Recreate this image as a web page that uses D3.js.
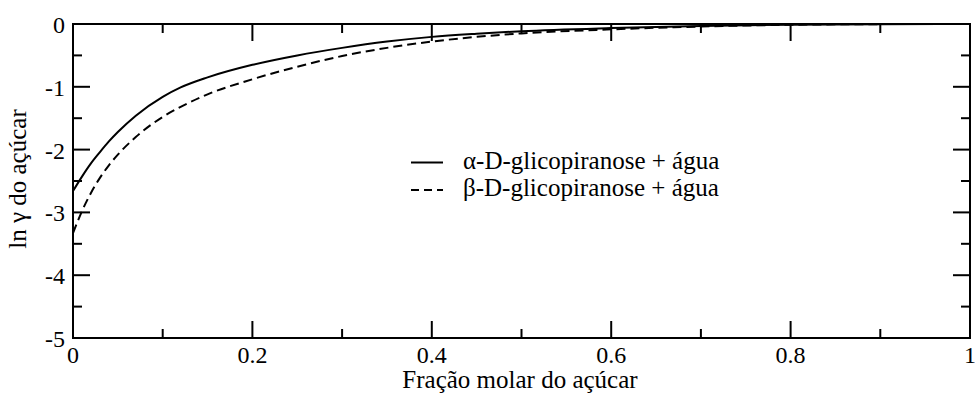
<!DOCTYPE html>
<html>
<head>
<meta charset="utf-8">
<script src="https://cdn.jsdelivr.net/npm/d3@7/dist/d3.min.js"></script>
<style>
  html, body { margin: 0; padding: 0; background: #fff; }
  svg { display: block; }
</style>
</head>
<body>
<svg id="chart" width="975" height="396"></svg>
<script>
// Molar fraction of sugar
const fracao = [0, 0.01, 0.02, 0.03, 0.04, 0.05, 0.07, 0.1, 0.12, 0.15, 0.2, 0.25, 0.3, 0.35, 0.4, 0.45, 0.5, 0.6, 0.7, 0.8, 0.9, 1.0];
// ln(gamma) of the sugar, alpha anomer + water
const lnGammaAlfa = [-2.66, -2.43, -2.22, -2.04, -1.87, -1.72, -1.46, -1.16, -1.01, -0.85, -0.65, -0.50, -0.38, -0.28, -0.205, -0.155, -0.115, -0.065, -0.03, -0.01, -0.002, 0];
// ln(gamma) of the sugar, beta anomer + water
const lnGammaBeta = [-3.33, -2.98, -2.69, -2.45, -2.25, -2.08, -1.80, -1.48, -1.32, -1.12, -0.88, -0.68, -0.51, -0.38, -0.28, -0.205, -0.15, -0.085, -0.04, -0.012, -0.002, 0];

const xTicks = [0, 0.2, 0.4, 0.6, 0.8, 1];
const xTickLabels = ["0", "0.2", "0.4", "0.6", "0.8", "1"];
const yTicks = [0, -1, -2, -3, -4, -5];
const yTickLabels = ["0", "-1", "-2", "-3", "-4", "-5"];
const seriesNames = ["\u03b1-D-glicopiranose + \u00e1gua", "\u03b2-D-glicopiranose + \u00e1gua"];

const FONT = "Liberation Serif";

const svg = d3.select("#chart");
const m = { left: 73, right: 970, top: 24, bottom: 338 };

const x = d3.scaleLinear().domain([0, 1]).range([m.left, m.right]);
const y = d3.scaleLinear().domain([-5, 0]).range([m.bottom, m.top]);

const majorLen = 17, minorLen = 9;
const ink = "#000";

// Tick marks on all four sides, pointing inward
const xMinor = d3.range(0, 1.0001, 0.1);
const yMinor = d3.range(-5, 0.0001, 0.5);
const g = svg.append("g").attr("stroke", ink).attr("stroke-width", 2);
xMinor.forEach(v => {
  const major = xTicks.some(t => Math.abs(t - v) < 1e-6);
  const len = major ? majorLen : minorLen;
  g.append("line").attr("x1", x(v)).attr("x2", x(v)).attr("y1", m.bottom).attr("y2", m.bottom - len);
  g.append("line").attr("x1", x(v)).attr("x2", x(v)).attr("y1", m.top).attr("y2", m.top + len);
});
yMinor.forEach(v => {
  const major = yTicks.some(t => Math.abs(t - v) < 1e-6);
  const len = major ? majorLen : minorLen;
  g.append("line").attr("y1", y(v)).attr("y2", y(v)).attr("x1", m.left).attr("x2", m.left + len);
  g.append("line").attr("y1", y(v)).attr("y2", y(v)).attr("x1", m.right).attr("x2", m.right - len);
});

// Curves
const line = d3.line()
  .x((d, i) => x(fracao[i]))
  .y(d => y(d))
  .curve(d3.curveMonotoneX);

svg.append("path").datum(lnGammaAlfa)
  .attr("d", line).attr("fill", "none").attr("stroke", ink).attr("stroke-width", 2);
svg.append("path").datum(lnGammaBeta)
  .attr("d", line).attr("fill", "none").attr("stroke", ink).attr("stroke-width", 2)
  .attr("stroke-dasharray", "9,5");

// Frame
svg.append("rect")
  .attr("x", m.left).attr("y", m.top)
  .attr("width", m.right - m.left).attr("height", m.bottom - m.top)
  .attr("fill", "none").attr("stroke", ink).attr("stroke-width", 2);

const txt = sel => sel.attr("font-family", FONT).attr("fill", ink);

// Tick labels
svg.append("g").selectAll("text").data(xTicks).join("text")
  .call(txt)
  .attr("x", d => x(d)).attr("y", 363)
  .attr("text-anchor", "middle").attr("font-size", 24)
  .text((d, i) => xTickLabels[i]);
svg.append("g").selectAll("text").data(yTicks).join("text")
  .call(txt)
  .attr("x", 65).attr("y", d => y(d) + 9)
  .attr("text-anchor", "end").attr("font-size", 24)
  .text((d, i) => yTickLabels[i]);

// Axis titles
svg.append("text").call(txt)
  .attr("x", 520).attr("y", 388)
  .attr("text-anchor", "middle").attr("font-size", 25)
  .text("Fra\u00e7\u00e3o molar do a\u00e7\u00facar");
svg.append("text").call(txt)
  .attr("transform", `translate(26,179) rotate(-90)`)
  .attr("text-anchor", "middle").attr("font-size", 25)
  .text("ln \u03b3 do a\u00e7\u00facar");

// Legend
const legend = svg.append("g");
const rows = [{ y: 162.5, dash: null }, { y: 190, dash: "8,5" }];
rows.forEach((r, i) => {
  legend.append("line")
    .attr("x1", 411).attr("x2", 443).attr("y1", r.y).attr("y2", r.y)
    .attr("stroke", ink).attr("stroke-width", 2)
    .attr("stroke-dasharray", r.dash);
  legend.append("text").call(txt)
    .attr("x", 463).attr("y", r.y + 6)
    .attr("font-size", 25)
    .text(seriesNames[i]);
});
</script>
</body>
</html>
